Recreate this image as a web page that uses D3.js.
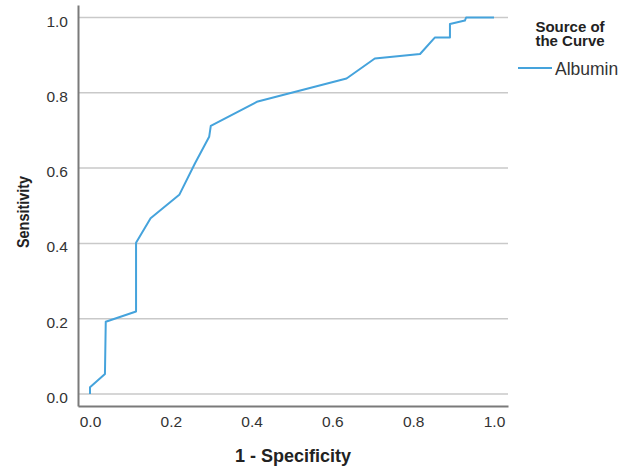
<!DOCTYPE html>
<html>
<head>
<meta charset="utf-8">
<script src="https://cdn.jsdelivr.net/npm/d3@7"></script>
<style>
  html, body { margin: 0; padding: 0; background: #fff; }
  svg { display: block; font-family: "Liberation Sans", Arial, sans-serif; }
</style>
</head>
<body>
<svg id="chart" width="632" height="468"></svg>
<script>
// ROC curve data (1 - Specificity, Sensitivity)
const fpr = [0, 0, 0.037, 0.039, 0.114, 0.114, 0.150, 0.221, 0.260, 0.295, 0.299, 0.413, 0.635, 0.705, 0.817, 0.854, 0.891, 0.891, 0.928, 0.931, 1.0];
const tpr = [0, 0.018, 0.053, 0.192, 0.219, 0.402, 0.467, 0.529, 0.613, 0.683, 0.712, 0.776, 0.838, 0.891, 0.903, 0.947, 0.947, 0.983, 0.992, 1.0, 1.0];
const xTicks = [0, 0.2, 0.4, 0.6, 0.8, 1.0];
const yTicks = [0, 0.2, 0.4, 0.6, 0.8, 1.0];
const seriesName = "Albumin";
const legendTitle = ["Source of", "the Curve"];
const xTitle = "1 - Specificity";
const yTitle = "Sensitivity";

const svg = d3.select("#chart");
const x = d3.scaleLinear().domain([-0.0297, 1.0347]).range([78, 508]);
const y = d3.scaleLinear().domain([-0.0319, 1.0332]).range([406, 5]);

// gridlines
svg.append("g").selectAll("line").data(yTicks).join("line")
  .attr("x1", x.range()[0]).attr("x2", x.range()[1])
  .attr("y1", d => y(d)).attr("y2", d => y(d))
  .attr("stroke", "#c9c9c9").attr("stroke-width", 1.5);

// axes
const xAxis = svg.append("g").attr("transform", "translate(0,406)")
  .call(d3.axisBottom(x).tickValues(xTicks).tickFormat(d3.format(".1f")).tickSize(0).tickPadding(10));
const yAxis = svg.append("g").attr("transform", "translate(78,0)")
  .call(d3.axisLeft(y).tickValues(yTicks).tickFormat(d3.format(".1f")).tickSize(0).tickPadding(10));
[xAxis, yAxis].forEach(a => {
  a.select(".domain").attr("stroke", "#7a7a7a").attr("stroke-width", 2);
  a.selectAll("text").attr("font-family", "'Liberation Sans', Arial, sans-serif")
    .attr("font-size", 15.5).attr("fill", "#333");
});
yAxis.selectAll("text").attr("dy", "0.55em");

// curve
const pts = fpr.map((v, i) => [v, tpr[i]]);
svg.append("path").datum(pts)
  .attr("fill", "none").attr("stroke", "#45a3dc").attr("stroke-width", 2)
  .attr("stroke-linejoin", "round")
  .attr("d", d3.line().x(d => x(d[0])).y(d => y(d[1])));

// axis titles
svg.append("text").attr("x", 293).attr("y", 462).attr("text-anchor", "middle")
  .attr("font-size", 18).attr("font-weight", "bold").attr("fill", "#222").text(xTitle);
svg.append("text").attr("transform", "translate(29,212) rotate(-90)").attr("text-anchor", "middle")
  .attr("font-size", 17).attr("font-weight", "bold").attr("fill", "#222")
  .attr("textLength", 72).attr("lengthAdjust", "spacingAndGlyphs").text(yTitle);

// legend
svg.append("g").selectAll("text").data(legendTitle).join("text")
  .attr("x", 570).attr("y", (d, i) => 32 + i * 14).attr("text-anchor", "middle")
  .attr("font-size", 15).attr("font-weight", "bold").attr("fill", "#222").text(d => d);
svg.append("line").attr("x1", 518).attr("x2", 552).attr("y1", 68).attr("y2", 68)
  .attr("stroke", "#45a3dc").attr("stroke-width", 2);
svg.append("text").attr("x", 555).attr("y", 75).attr("font-size", 17.5).attr("fill", "#333").text(seriesName);
</script>
</body>
</html>
